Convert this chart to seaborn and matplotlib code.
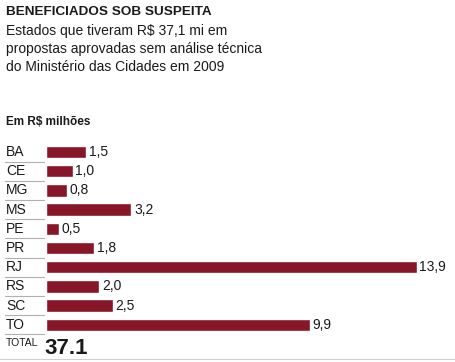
import matplotlib
matplotlib.use('Agg')
import matplotlib.pyplot as plt
import matplotlib.transforms as mtransforms
import seaborn as sns
import pandas as pd

# dados
estados = ['BA', 'CE', 'MG', 'MS', 'PE', 'PR', 'RJ', 'RS', 'SC', 'TO']
valores = [1.5, 1.0, 0.8, 3.2, 0.5, 1.8, 13.9, 2.0, 2.5, 9.9]
rotulos = ['1,5', '1,0', '0,8', '3,2', '0,5', '1,8', '13,9', '2,0', '2,5', '9,9']
total = '37.1'

sns.set_theme(style='white')
plt.rcParams['font.family'] = ['Liberation Sans', 'DejaVu Sans']

W, H = 456, 362
fig = plt.figure(figsize=(W / 100, H / 100), dpi=100)

row = 19.2
top = 142.4
ax = fig.add_axes([46 / W, (H - top - 10 * row) / H, 400 / W, 10 * row / H])

df = pd.DataFrame({'estado': estados, 'valor': valores})
sns.barplot(data=df, y='estado', x='valor', orient='h', color='#861628',
            saturation=1, width=0.64, ax=ax)
ax.set_xlim(0, 15)
ax.set_ylim(9.5, -0.5)
ax.axis('off')

cor = '#1a1a1a'
for i, (v, r) in enumerate(zip(valores, rotulos)):
    ax.text(v + 0.1, i, r, va='center', ha='left', fontsize=10, color=cor)

# rótulos dos estados com linhas cinzas
tr = mtransforms.blended_transform_factory(fig.transFigure, ax.transData)
for i, e in enumerate(estados):
    ax.text(6 / W, i, e, transform=tr, va='center', ha='left', fontsize=10,
            color=cor, clip_on=False)
    ax.plot([5 / W, 44 / W], [i + 0.5, i + 0.5], transform=tr, color='#b0b0b0',
            lw=0.8, clip_on=False)

fig.add_artist(plt.Line2D([0, 1], [1 - 359 / H, 1 - 359 / H], color='#d0d0d0', lw=0.8))

# textos
fig.text(6 / W, 1 - 12 / H, 'BENEFICIADOS SOB SUSPEITA', fontsize=9.7,
         fontweight='bold', va='center', color=cor)
sub = ['Estados que tiveram R$ 37,1 mi em',
       'propostas aprovadas sem análise técnica',
       'do Ministério das Cidades em 2009']
for k, s in enumerate(sub):
    fig.text(6 / W, 1 - (31 + 18 * k) / H, s, fontsize=10, va='center', color=cor)
fig.text(6 / W, 1 - 122 / H, 'Em R$ milhões', fontsize=8.5, fontweight='bold',
         va='center', color=cor)
fig.text(6 / W, 1 - 343 / H, 'TOTAL', fontsize=7.5, va='center', color=cor)
fig.text(44 / W, 1 - 348 / H, total, fontsize=16, fontweight='bold', va='center',
         color=cor)

fig.savefig('out.png', dpi=100)
